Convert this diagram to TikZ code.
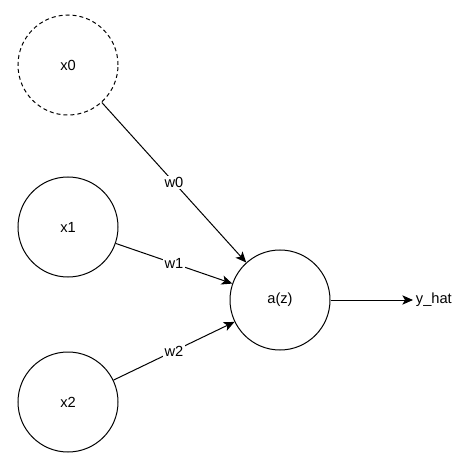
\documentclass[tikz,border=0pt]{standalone}
\usepackage{fontspec}
\setmainfont{Liberation Sans}
\usetikzlibrary{arrows.meta}

\begin{document}
\begin{tikzpicture}[x=0.75pt,y=-0.75pt,
  neuron/.style={draw,circle,line width=0.75pt,minimum size=75pt,inner sep=0pt},
  link/.style={line width=0.75pt,-{Stealth[length=8pt,width=7pt,inset=2pt]}},
  weight/.style={midway,fill=white,inner sep=1pt},
  every node/.style={font=\fontsize{11}{13}\selectfont}]
\useasboundingbox (0,0) rectangle (472,467);

\node[neuron,dash pattern=on 3pt off 2.25pt] (x0) at (68,65) {x0};
\node[neuron] (x1) at (68,227) {x1};
\node[neuron] (x2) at (68,402) {x2};
\node[neuron] (az) at (280,300) {a(z)};
\node[anchor=west,inner sep=2pt] (yhat) at (413,300) {y\_hat};

\draw[link] (x0) -- node[weight] {w0} (az);
\draw[link] (x1) -- node[weight] {w1} (az);
\draw[link] (x2) -- node[weight] {w2} (az);
\draw[link] (az) -- (yhat);
\end{tikzpicture}
\end{document}
